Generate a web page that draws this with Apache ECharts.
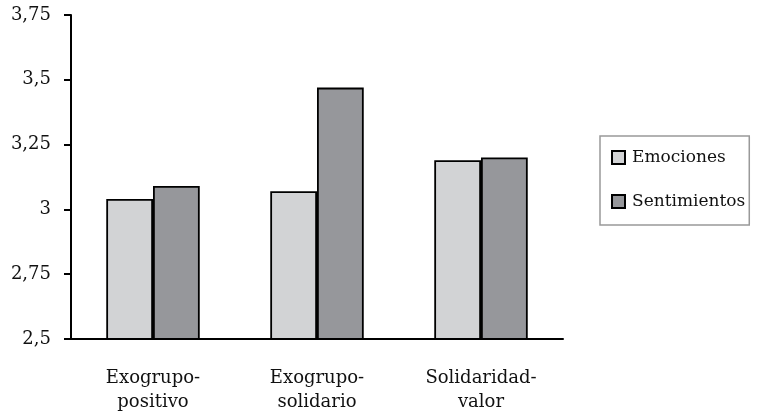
<!DOCTYPE html>
<html>
<head>
<meta charset="utf-8">
<script src="https://cdn.jsdelivr.net/npm/echarts@6/dist/echarts.min.js"></script>
<style>
  html, body { margin: 0; padding: 0; background: #fff; }
  #chart { width: 758px; height: 414px; }
</style>
</head>
<body>
<div id="chart"></div>
<script>
const categories = ['Exogrupo-\npositivo', 'Exogrupo-\nsolidario', 'Solidaridad-\nvalor'];
const emociones = [3.04, 3.07, 3.19];
const sentimientos = [3.09, 3.47, 3.2];
const yTicks = [2.5, 2.75, 3, 3.25, 3.5, 3.75];

const font = 'DejaVu Serif';

const chart = echarts.init(document.getElementById('chart'));
chart.setOption({
  animation: false,
  backgroundColor: '#fff',
  grid: { left: 71, top: 15, right: 195, bottom: 75 },
  legend: {
    orient: 'vertical',
    left: 600,
    top: 136,
    icon: 'rect',
    itemWidth: 13,
    itemHeight: 13,
    itemGap: 27,
    padding: [13, 4, 15, 11],
    borderColor: '#999',
    borderWidth: 1.5,
    textStyle: { fontFamily: font, fontSize: 17, color: '#111', padding: [0, 0, 0, 2] },
    data: ['Emociones', 'Sentimientos']
  },
  xAxis: {
    type: 'category',
    data: categories,
    axisLine: { lineStyle: { color: '#000', width: 2 } },
    axisTick: { length: 6, lineStyle: { color: '#000', width: 2 } },
    axisLabel: { fontFamily: font, fontSize: 18, color: '#111', lineHeight: 24, margin: 27 }
  },
  yAxis: {
    type: 'value',
    min: 2.5,
    max: 3.75,
    interval: 0.25,
    axisLine: { show: true, lineStyle: { color: '#000', width: 2 } },
    axisTick: { show: true, length: 7, lineStyle: { color: '#000', width: 2 } },
    splitLine: { show: false },
    axisLabel: {
      fontFamily: font, fontSize: 18, color: '#111', margin: 20,
      formatter: v => yTicks.indexOf(v) >= 0 ? String(v).replace('.', ',') : ''
    }
  },
  series: [
    {
      name: 'Emociones', type: 'bar', data: emociones,
      barGap: '0%', barCategoryGap: '43%',
      itemStyle: { color: '#d2d3d5', borderColor: '#000', borderWidth: 1.8 }
    },
    {
      name: 'Sentimientos', type: 'bar', data: sentimientos,
      itemStyle: { color: '#96979b', borderColor: '#000', borderWidth: 1.8 }
    }
  ]
});
</script>
</body>
</html>
